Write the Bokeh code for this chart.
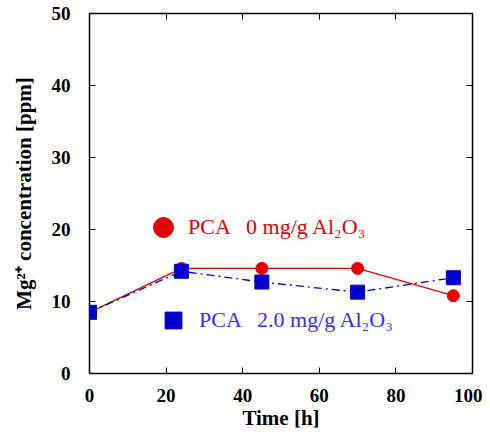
from bokeh.plotting import figure
from bokeh.models import ColumnDataSource, LinearAxis, Legend, LegendItem, Range1d, FixedTicker
from bokeh.embed import file_html
from bokeh.resources import INLINE

time_h = [0, 24, 45, 70, 95]
pca0 = [8.5, 14.6, 14.6, 14.6, 10.8]
pca2 = [8.5, 14.2, 12.7, 11.3, 13.3]
x_ticks = [0, 20, 40, 60, 80, 100]
y_ticks = [0, 10, 20, 30, 40, 50]
label0 = "PCA   0 mg/g Al\u2082O\u2083"
label2 = "PCA   2.0 mg/g Al\u2082O\u2083"

FONT = "Liberation Serif"
RED = "#e60000"
BLUE = "#0000cc"
LBLUE = "#3030ff"

p = figure(width=482, height=434, output_backend="svg", toolbar_location=None,
           x_range=Range1d(0, 100), y_range=Range1d(0, 50),
           min_border_left=89, min_border_top=13, min_border_right=10, min_border_bottom=61)
p.xgrid.visible = False
p.ygrid.visible = False
p.outline_line_color = "black"
p.outline_line_width = 1.5
p.background_fill_color = "white"

src = ColumnDataSource(dict(t=time_h, a=pca0, b=pca2))
p.line("t", "a", source=src, color=RED, line_width=1.3)
p.line("t", "b", source=src, color=BLUE, line_width=1.3, line_dash="8 4 2 4")
r_a = p.scatter("t", "a", source=src, marker="circle", size=12, color=RED)
r_b = p.scatter("t", "b", source=src, marker="square", size=14, color=BLUE)

xa = p.xaxis[0]
ya = p.yaxis[0]
xa.ticker = FixedTicker(ticks=x_ticks)
ya.ticker = FixedTicker(ticks=y_ticks)
for ax in (xa, ya):
    ax.major_tick_in = 6
    ax.major_tick_out = 0
    ax.minor_tick_line_color = None
    ax.axis_line_color = None
    ax.major_label_text_font = FONT
    ax.major_label_text_font_style = "bold"
    ax.major_label_text_font_size = "19px"
    ax.major_label_text_color = "black"
    ax.axis_label_text_font = FONT
    ax.axis_label_text_font_style = "bold"
    ax.axis_label_text_color = "black"
xa.axis_label = "Time [h]"
xa.axis_label_text_font_size = "21px"
xa.major_label_standoff = 15
xa.axis_label_standoff = 1
ya.axis_label = "Mg\u00b2\u207a concentration [ppm]"
ya.axis_label_text_font_size = "21px"
ya.major_label_standoff = 19
ya.axis_label_standoff = 13

top = LinearAxis(ticker=FixedTicker(ticks=x_ticks),
                 major_label_overrides={t: "" for t in x_ticks},
                 major_tick_in=6, major_tick_out=0, minor_tick_line_color=None, axis_line_color=None)
right = LinearAxis(ticker=FixedTicker(ticks=y_ticks),
                   major_label_overrides={t: "" for t in y_ticks},
                   major_tick_in=6, major_tick_out=0, minor_tick_line_color=None, axis_line_color=None)
p.add_layout(top, "above")
p.add_layout(right, "right")

lg1 = Legend(items=[LegendItem(label=label0, renderers=[r_a])], location=(49, 121),
             glyph_width=50, glyph_height=50, label_standoff=0, padding=0, margin=0,
             border_line_color=None, background_fill_alpha=0,
             label_text_font=FONT, label_text_font_size="22px", label_text_color=RED)
lg2 = Legend(items=[LegendItem(label=label2, renderers=[r_b])], location=(63, 32),
             glyph_width=42, glyph_height=42, label_standoff=5, padding=0, margin=0,
             border_line_color=None, background_fill_alpha=0,
             label_text_font=FONT, label_text_font_size="22px", label_text_color=LBLUE)
p.add_layout(lg1)
p.add_layout(lg2)

open("out.html", "w").write(file_html(p, INLINE))
